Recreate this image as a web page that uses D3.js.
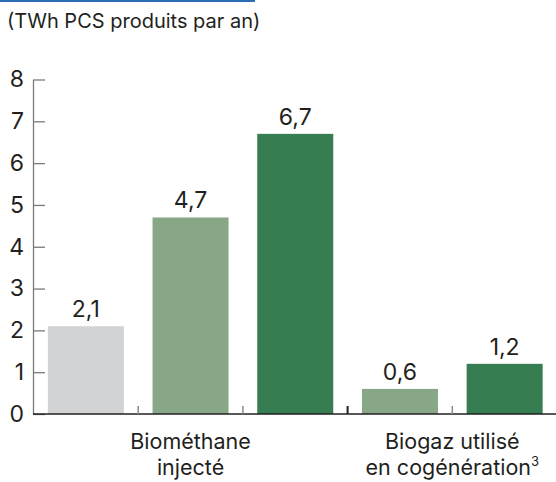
<!DOCTYPE html>
<html>
<head>
<meta charset="utf-8">
<script src="https://cdn.jsdelivr.net/npm/d3@7"></script>
<style>
  body { margin: 0; background: #fff; }
  text { font-family: Inter, "Noto Sans", sans-serif; fill: #231f20; }
</style>
</head>
<body>
<script>

// DATA
var categories = ["Biométhane injecté", "Biogaz utilisé en cogénération"];
var seriesKeys = ["a", "b", "c"];
var biomethane = [2.1, 4.7, 6.7];
var cogeneration = [null, 0.6, 1.2];
var yTicks = [0, 1, 2, 3, 4, 5, 6, 7, 8];
var title = "(TWh PCS produits par an)";

var colors = d3.scaleOrdinal().domain(seriesKeys).range(["#d1d3d4", "#88a787", "#367e51"]);
var fr = d3.formatLocale({decimal: ",", thousands: " ", grouping: [3], currency: ["", " €"]});
var fmt = fr.format(".1f");

// flatten into slots (empty series are skipped)
var slots = [];
[biomethane, cogeneration].forEach(function(vals, ci){
    vals.forEach(function(v, si){
        if (v === null) return;
        slots.push({id: ci + "-" + si, cat: ci, key: seriesKeys[si], value: v});
    });
});

var width = 556, height = 482;

var svg = d3.select("body").append("svg").attr("width", width).attr("height", height);

//SCALES
var xScale = d3.scaleBand()
    .domain(slots.map(function(d){return d.id;}))
    .range([33.5, 557])
    .paddingInner(0.274)
    .paddingOuter(0.137);

var yScale = d3.scaleLinear()
    .domain([0, 8])
    .range([414, 79.5]);

// header
svg.append("rect").attr("x", 0).attr("y", 0).attr("width", 255).attr("height", 2).attr("fill", "#2a6db5");
svg.append("text").attr("x", 7).attr("y", 28).attr("font-size", 20).text(title);

//BARS
svg.selectAll(".bar").data(slots).enter().append("rect")
    .attr("class", "bar")
    .attr("x", function(d){return xScale(d.id);})
    .attr("y", function(d){return yScale(d.value);})
    .attr("width", xScale.bandwidth())
    .attr("height", function(d){return yScale(0) - yScale(d.value);})
    .attr("fill", function(d){return colors(d.key);});

svg.selectAll(".val").data(slots).enter().append("text")
    .attr("class", "val")
    .attr("x", function(d){return xScale(d.id) + xScale.bandwidth() / 2;})
    .attr("y", function(d){return yScale(d.value) - 9;})
    .attr("text-anchor", "middle")
    .attr("font-size", 23)
    .text(function(d){return fmt(d.value);});

//AXIS
var yAxis = d3.axisLeft(yScale).tickValues(yTicks).tickSize(-12).tickSizeOuter(0).tickPadding(9)
    .tickFormat(d3.format("d"));

var yG = svg.append("g").attr("transform", "translate(33,0)").call(yAxis);
yG.selectAll("path, line").attr("stroke", "#7a7a7a").attr("stroke-width", 1.3);
yG.selectAll("text").attr("font-size", 23).attr("fill", "#231f20").style("font-family", "Inter, sans-serif");

var xAxis = d3.axisBottom(xScale).tickValues([]).tickSizeOuter(0);
var xG = svg.append("g").attr("transform", "translate(0," + yScale(0) + ")").call(xAxis);
xG.select("path").attr("stroke", "#231f20").attr("stroke-width", 1.5).attr("d", "M33,0H557");

// small separators between slots
var gap = xScale.step() * xScale.paddingInner() / 2;
var seps = slots.slice(1).map(function(d, i){
    return {x: xScale(d.id) - gap, group: d.cat !== slots[i].cat};
});
svg.selectAll(".sep").data(seps).enter().append("line")
    .attr("x1", function(d){return d.x;}).attr("x2", function(d){return d.x;})
    .attr("y1", yScale(0) - 8).attr("y2", yScale(0))
    .attr("stroke", function(d){return d.group ? "#231f20" : "#8a8a8a";})
    .attr("stroke-width", function(d){return d.group ? 2 : 1.5;});

// category labels
var catLines = [["Biométhane", "injecté"], ["Biogaz utilisé", "en cogénération"]];
categories.forEach(function(c, ci){
    var inCat = slots.filter(function(d){return d.cat === ci;});
    var x0 = xScale(inCat[0].id) - gap;
    var x1 = xScale(inCat[inCat.length - 1].id) + xScale.bandwidth() + gap;
    var t = svg.append("text")
        .attr("text-anchor", "middle")
        .attr("font-size", 21.5);
    catLines[ci].forEach(function(line, li){
        var ts = t.append("tspan").attr("x", (x0 + x1) / 2).attr("y", 449 + li * 26).text(line);
        if (ci === 1 && li === 1) ts.append("tspan").attr("font-size", 13).attr("dy", -9).text("3");
    });
});

</script>
</body>
</html>
